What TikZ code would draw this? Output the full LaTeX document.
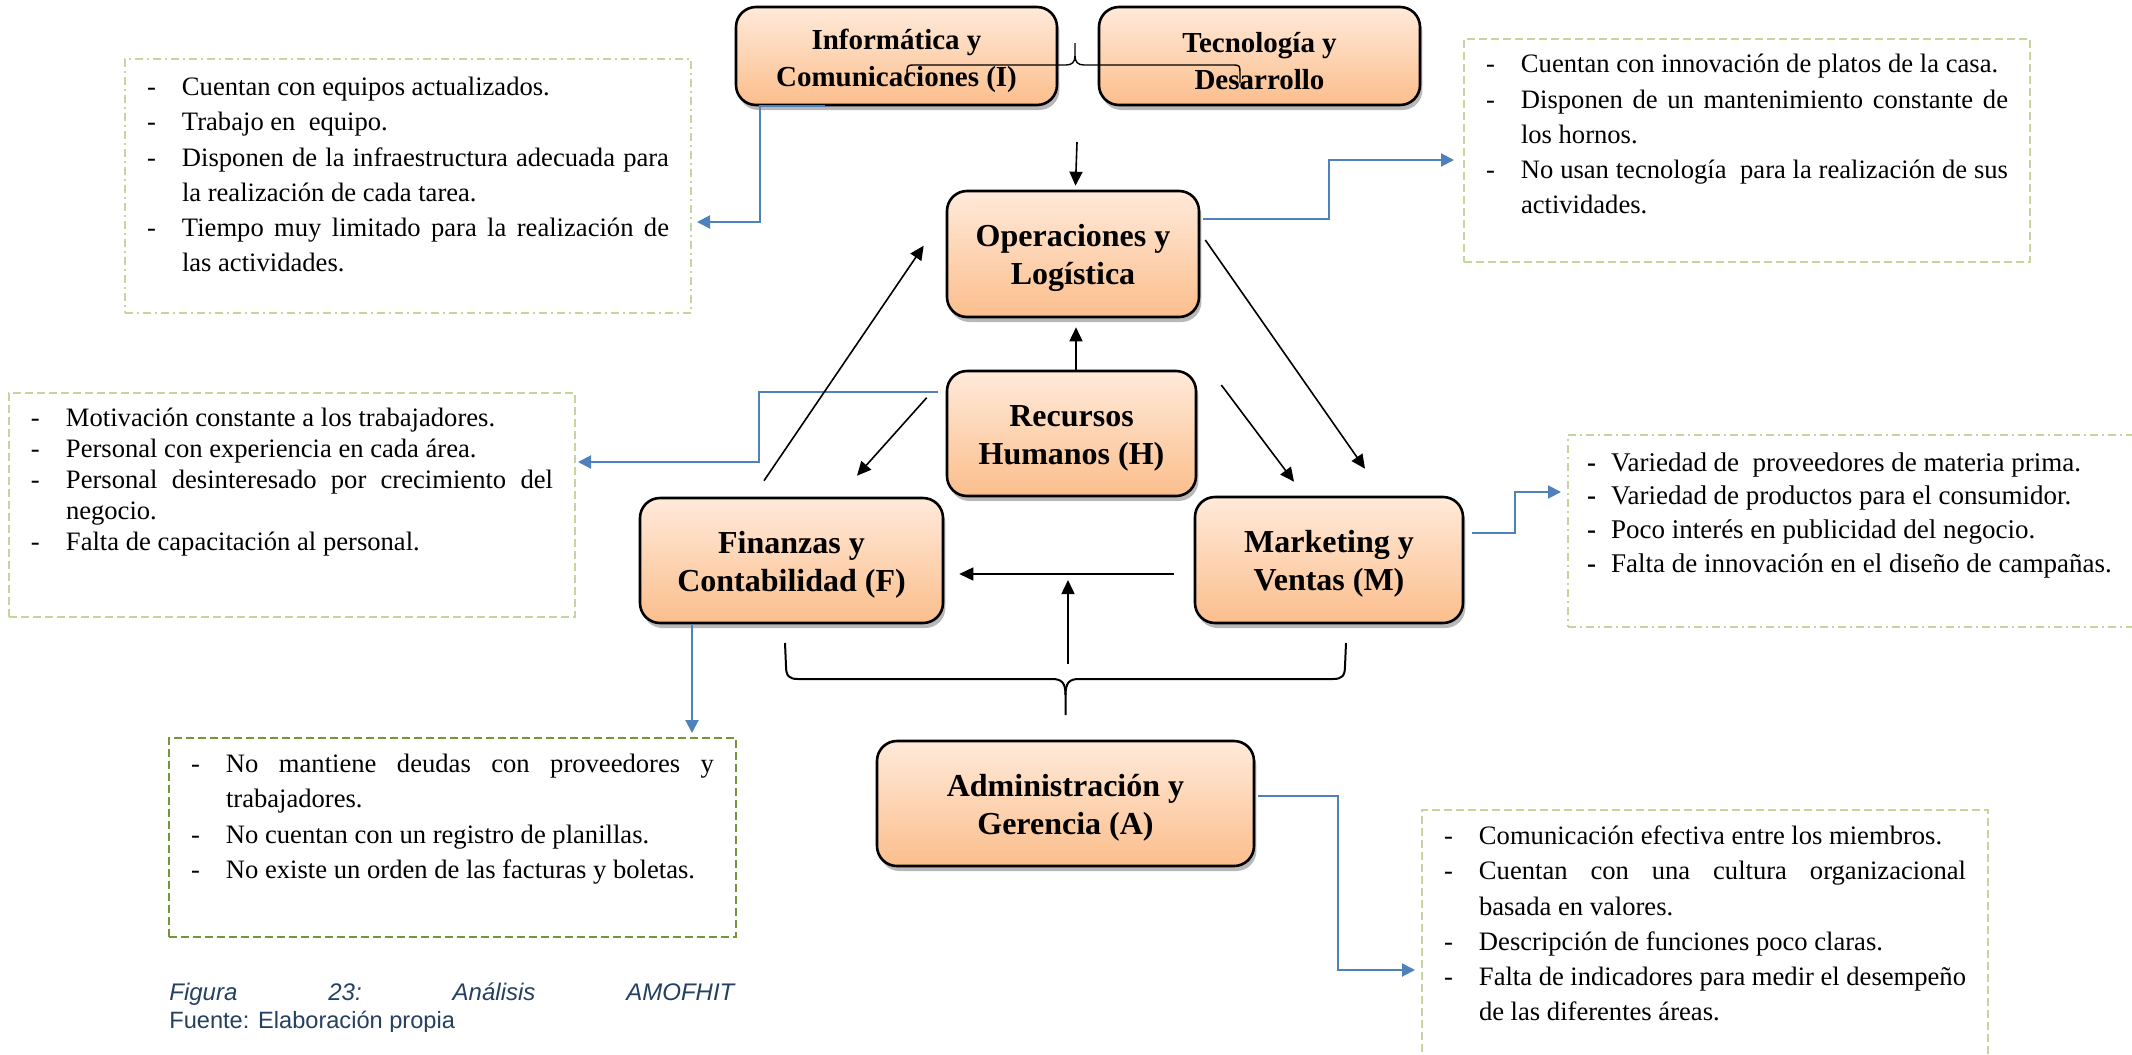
\documentclass[tikz,border=0pt]{standalone}
\usepackage{fontspec}
\setmainfont{Liberation Serif}
\newfontfamily\capfont{Liberation Sans}
\usetikzlibrary{arrows.meta,calc,shadows}

\definecolor{notegreen}{RGB}{195,214,155}
\definecolor{noteolive}{RGB}{119,147,60}
\definecolor{linkblue}{RGB}{79,129,189}
\definecolor{boxtop}{RGB}{255,234,218}
\definecolor{boxbottom}{RGB}{251,190,140}
\definecolor{captionblue}{RGB}{36,64,98}

% bulleted lines of the dashed note boxes
\newlength\dashcol
\setlength\dashcol{17.5pt}
\newcommand\dashmark{-}
\newcommand\firsth{0pt}
\newcommand\noteitem{\par\noindent\hangindent=\dashcol\hangafter=1\relax\makebox[\dashcol][l]{\rule{0pt}{\firsth}\dashmark}\def\firsth{0pt}\ignorespaces}
% #1 height, #2 width, #3 font size, #4 line skip, #5 first baseline, #6 items
\newcommand\notetext[6]{\parbox[t][#1][t]{#2}{\fontsize{#3}{#4}\selectfont\parskip=0pt\parindent=0pt\tolerance=10000\hyphenpenalty=10000\exhyphenpenalty=10000\def\firsth{#5}#6}}
% taller first line, to seat the titles a little lower in their boxes
\newcommand\titlestrut{\rule{0pt}{15pt}}

\begin{document}
\begin{tikzpicture}[x=0.5pt,y=-0.5pt,
  areabox/.style={draw=black, line width=1.3pt, rounded corners=10pt,
    top color=boxtop, bottom color=boxbottom, align=center, inner sep=0pt,
    font=\bfseries\fontsize{16pt}{19pt}\selectfont,
    drop shadow={shadow xshift=1.2pt, shadow yshift=-2.5pt, opacity=0.28, fill=black}},
  topbox/.style={areabox, font=\bfseries\fontsize{14.5pt}{18.5pt}\selectfont},
  notebox/.style={draw=notegreen, line width=0.75pt, anchor=north west,
    inner xsep=11pt, inner ysep=0pt, outer sep=0pt},
  dashline/.style={dash pattern=on 4pt off 2pt},
  dashdotline/.style={dash pattern=on 4pt off 2pt on 1pt off 2pt},
  flowarrow/.style={line width=0.8pt, -{Triangle[length=7pt,width=6.5pt]}},
  linkarrow/.style={draw=linkblue, line width=1pt, -{Triangle[length=6.5pt,width=6.5pt]}},
  bracket/.style={line width=1pt}]

\useasboundingbox (0,0) rectangle (2132,1055);
\fill[white] (0,0) rectangle (2132,1055);

% ---- notes ----
\node[notebox, dashdotline] (tl) at (125,59) {\notetext{127pt}{261pt}{13.3pt}{17.6pt}{18.3pt}{%
\noteitem Cuentan con equipos actualizados.
\noteitem Trabajo en\ \ equipo.
\noteitem Disponen de la infraestructura adecuada para\linebreak la realización de cada tarea.
\noteitem Tiempo muy limitado para la realización de\linebreak las actividades.}};

\node[notebox, dashline] (tr) at (1464,39) {\notetext{111.5pt}{261pt}{13.3pt}{17.6pt}{16.9pt}{%
\noteitem Cuentan con innovación de platos de la casa.
\noteitem Disponen de un mantenimiento constante de\linebreak los hornos.
\noteitem No usan tecnología\ \ para la realización de sus\linebreak actividades.}};

\node[notebox, dashline] (ml) at (9,393) {\notetext{112pt}{261pt}{13.3pt}{15.5pt}{16.9pt}{%
\noteitem Motivación constante a los trabajadores.
\noteitem Personal con experiencia en cada área.
\noteitem Personal desinteresado por crecimiento del\linebreak negocio.
\noteitem Falta de capacitación al personal.}};

\node[notebox, dashdotline, inner xsep=9.5pt] (mr) at (1568,435) {\notetext{96pt}{268pt}{13.5pt}{16.9pt}{18pt}{%
\setlength\dashcol{12pt}\def\dashmark{\textbf{-}}%
\noteitem Variedad de\ \ proveedores de materia prima.
\noteitem Variedad de productos para el consumidor.
\noteitem Poco interés en publicidad del negocio.
\noteitem Falta de innovación en el diseño de campañas.}};

\node[notebox, dashline, draw=noteolive] (bl) at (169,738) {\notetext{99.5pt}{261.5pt}{13.3pt}{17.6pt}{17.3pt}{%
\noteitem No mantiene deudas con proveedores y\linebreak trabajadores.
\noteitem No cuentan con un registro de planillas.
\noteitem No existe un orden de las facturas y boletas.}};

\node[notebox, dashline] (br) at (1422,810) {\notetext{127pt}{261pt}{13.3pt}{17.6pt}{17.3pt}{%
\noteitem Comunicación efectiva entre los miembros.
\noteitem Cuentan con una cultura organizacional\linebreak basada en valores.
\noteitem Descripción de funciones poco claras.
\noteitem Falta de indicadores para medir el desempeño\linebreak de las diferentes áreas.}};

% ---- functional areas ----
\node[topbox, minimum width=160.5pt, minimum height=49pt] (info) at (896.5,56) {\titlestrut Informática y\\Comunicaciones (I)};
\node[topbox, minimum width=160.5pt, minimum height=49pt] (tec) at (1259.5,56) {\titlestrut Tecnología y\\Desarrollo};
\node[areabox, minimum width=126pt, minimum height=63pt] (ops) at (1073,254) {\titlestrut Operaciones y\\Logística};
\node[areabox, minimum width=124.5pt, minimum height=62.5pt] (hr) at (1071.5,433.5) {\titlestrut Recursos\\Humanos (H)};
\node[areabox, minimum width=151.5pt, minimum height=62.5pt] (fc) at (791.5,560.5) {\titlestrut Finanzas y\\Contabilidad (F)};
\node[areabox, minimum width=134pt, minimum height=63pt] (mk) at (1329,560) {\titlestrut Marketing y\\Ventas (M)};
\node[areabox, minimum width=188.5pt, minimum height=62.5pt] (adm) at (1065.5,803.5) {\titlestrut Administración y\\Gerencia (A)};

% ---- blue links to the notes ----
\draw[linkarrow] ($(info.south west)+(90,0)$) -- ($(info.south west)+(25,0)$) |- ($(tl.east)+(6,36)$);
\draw[linkarrow] ($(ops.east)+(3,-35)$) -| ($(tr.west)+(-135,9.5)$) -- ($(tr.west)+(-10,9.5)$);
\draw[linkarrow] ($(hr.west)+(-8,-41.5)$) -| ($(ml.east)+(184,-43)$) -- ($(ml.east)+(3,-43)$);
\coordinate (fcout) at ($(fc.south)+(-99.5,0)$);
\draw[linkarrow, shorten >=2.5pt] (fcout) -- (fcout |- bl.north);
\draw[linkarrow] ($(mk.east)+(8,-27)$) -| ($(mr.west)+(-53,-39)$) -- ($(mr.west)+(-7,-39)$);
\draw[linkarrow] ($(adm.east)+(3,-7.5)$) -| ($(br.west)+(-84,33)$) -- ($(br.west)+(-7,33)$);

% ---- black flows ----
\coordinate (topin) at (1077,142);
\draw[flowarrow] (topin) -- ($(ops.north)+(2.5,-4)$);
\draw[flowarrow] ($(hr.north)+(4.5,0)$) -- ($(ops.south)+(3,9)$);
\draw[flowarrow] ($(fc.north)+(-27.5,-16)$) -- ($(ops.west)+(-22,-8.3)$);
\draw[flowarrow] ($(ops.east)+(5,-14)$) -- ($(mk.north)+(36,-27)$);
\draw[flowarrow] ($(hr.west)+(-19,-35.8)$) -- ($(fc.north)+(65.5,-21)$);
\draw[flowarrow] ($(hr.east)+(24,-48.5)$) -- ($(mk.north)+(-35,-14)$);
\draw[flowarrow] ($(mk.west)+(-20,14)$) -- ($(fc.east)+(15,13.5)$);
\coordinate (brup) at (1068,664);
\coordinate (brtip) at (1068,580);
\draw[flowarrow] (brup) -- (brtip);

% ---- braces ----
\draw[line width=0.7pt] (907,83) -- (907,72) .. controls (907,66) and (908,65) .. (913,65) -- (1066,65) .. controls (1072,65) and (1075,62) .. (1075,56) -- (1075,43);
\draw[line width=0.7pt] (1240,83) -- (1240,72) .. controls (1240,66) and (1239,65) .. (1234,65) -- (1084,65) .. controls (1078,65) and (1075,62) .. (1075,56);
\draw[bracket] (785,643) -- (786,666) .. controls (786,676) and (789,679) .. (798,679) -- (1052,679) .. controls (1062,679) and (1065.5,683) .. (1065.5,695) -- (1065.5,715);
\draw[bracket] (1346,643) -- (1345,666) .. controls (1345,676) and (1342,679) .. (1333,679) -- (1079,679) .. controls (1069,679) and (1065.5,683) .. (1065.5,695);

% ---- caption ----
\node[anchor=base west, inner sep=0pt, text=captionblue, font=\capfont\itshape\fontsize{12pt}{14pt}\selectfont] (figcap) at (169,1000) {\hbox to 282.5pt{Figura\hfill 23:\hfill Análisis\hfill AMOFHIT}};
\begin{scope}
  \clip (0,0) rectangle (2132,1031);
  \node[anchor=base west, inner sep=0pt, text=captionblue, font=\capfont\fontsize{11.8pt}{14pt}\selectfont] (figsrc) at (169,1028) {Fuente: Elaboración propia};
\end{scope}
\end{tikzpicture}
\end{document}
